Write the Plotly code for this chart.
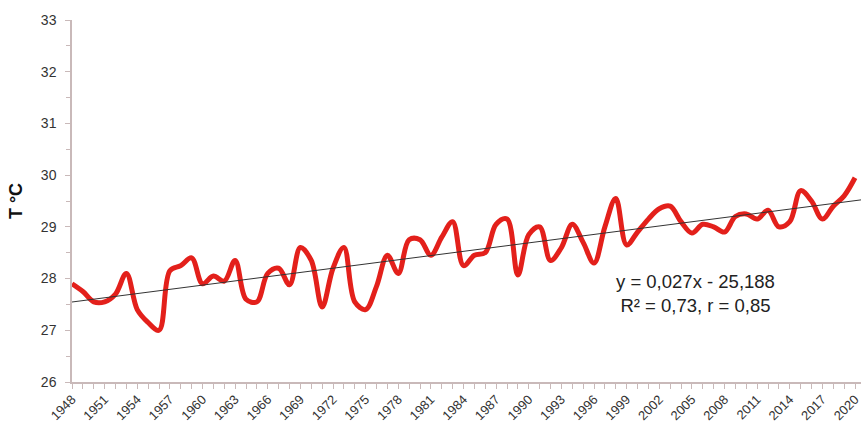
import numpy as np
import plotly.graph_objects as go

# Annual mean temperature, 1948-2020
years = list(range(1948, 2021))
temps = [
    27.90, 27.75, 27.55, 27.55, 27.70, 28.10, 27.40, 27.15, 27.00, 28.15,  # 1948-1957
    28.25, 28.40, 27.90, 28.05, 27.95, 28.35, 27.60, 27.55, 28.10, 28.20,  # 1958-1967
    27.88, 28.60, 28.35, 27.45, 28.20, 28.60, 27.55, 27.40, 27.85, 28.45,  # 1968-1977
    28.10, 28.75, 28.75, 28.45, 28.80, 29.10, 28.25, 28.45, 28.50, 29.05,  # 1978-1987
    29.15, 28.07, 28.85, 29.00, 28.35, 28.60, 29.05, 28.70, 28.30, 29.00,  # 1988-1997
    29.55, 28.65, 28.90, 29.15, 29.35, 29.40, 29.10, 28.88, 29.05, 29.00,  # 1998-2007
    28.90, 29.20, 29.25, 29.15, 29.32, 29.00, 29.10, 29.70, 29.50, 29.15,  # 2008-2017
    29.40, 29.60, 29.95,                                                   # 2018-2020
]
tick_years = list(range(1948, 2021, 3))
equation_text = "y = 0,027x - 25,188<br>R² = 0,73, r = 0,85"

# Linear trend fitted to the series, drawn across the full x range
x_end = 2020.55
slope, intercept = np.polyfit(years, temps, 1)
trend_x = [1948, x_end]
trend_y = [slope * x + intercept for x in trend_x]

axis_color = "#c9b9b9"
font_family = "Liberation Sans Narrow, Arial Narrow, Liberation Sans, Arial"

fig = go.Figure()
fig.add_trace(go.Scatter(
    x=years, y=temps, mode="lines",
    line=dict(color="#e3201b", width=5, shape="spline", smoothing=1.0),
    hoverinfo="x+y", showlegend=False,
))
fig.add_trace(go.Scatter(
    x=trend_x, y=trend_y, mode="lines",
    line=dict(color="#333333", width=1),
    hoverinfo="skip", showlegend=False,
))

# Regression equation label below the curve, right part of the plot
fig.add_annotation(
    x=2005.3, y=27.72, xref="x", yref="y",
    xanchor="center", yanchor="middle",
    text=equation_text, showarrow=False, align="center",
    font=dict(family="Liberation Sans, Arial", size=18.5, color="#222222"),
)

fig.update_layout(
    width=861, height=424,
    margin=dict(l=72, r=0, t=20, b=42),
    paper_bgcolor="white", plot_bgcolor="white",
    xaxis=dict(
        range=[1948, x_end], tickmode="array", tickvals=tick_years,
        ticktext=[str(y) for y in tick_years], tickangle=-45,
        ticks="outside", ticklen=5, tickcolor=axis_color,
        minor=dict(dtick=1, tick0=1948, ticks="outside", ticklen=5, tickcolor=axis_color),
        showline=True, linecolor=axis_color, linewidth=1.5,
        showgrid=False, zeroline=False,
        tickfont=dict(family=font_family, size=13, color="#333333"),
        automargin=False, ticklabeloverflow="allow", ticklabelstandoff=-2,
    ),
    yaxis=dict(
        range=[26, 33], dtick=1, tick0=26,
        ticks="outside", ticklen=5, tickcolor=axis_color,
        minor=dict(dtick=0.5, ticks="outside", ticklen=4, tickcolor=axis_color),
        showline=True, linecolor=axis_color, linewidth=1.5,
        showgrid=False, zeroline=False,
        tickfont=dict(family=font_family, size=14, color="#333333"),
        ticklabelstandoff=6, automargin=False,
        title=dict(text="<b>T °C</b>", font=dict(family="Liberation Sans, Arial", size=18, color="#111111"), standoff=14),
    ),
)

fig.write_html("out.html")
